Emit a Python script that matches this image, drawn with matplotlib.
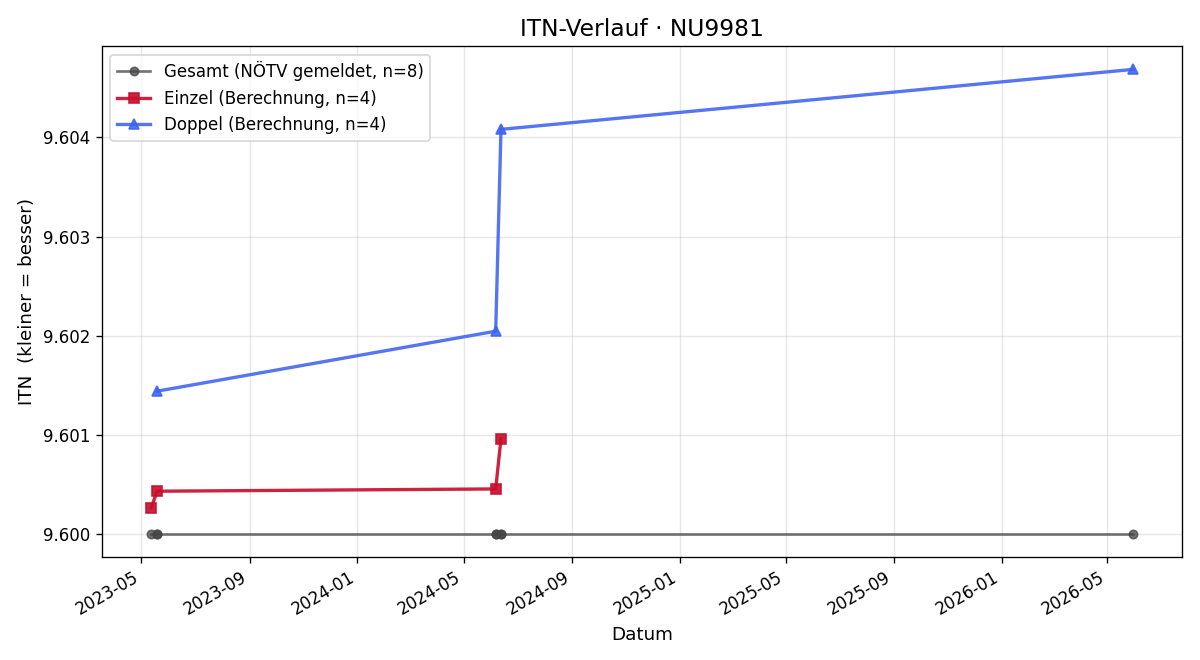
import matplotlib
matplotlib.use("Agg")
import matplotlib.pyplot as plt
import matplotlib.dates as mdates
from matplotlib.ticker import FormatStrFormatter
import pandas as pd

gesamt_dates = ["2023-05-12", "2023-05-19", "2023-05-19", "2024-06-06", "2024-06-06",
                "2024-06-12", "2024-06-12", "2026-05-30"]
gesamt_vals = [9.600] * 8
einzel_dates = ["2023-05-12", "2023-05-19", "2024-06-06", "2024-06-12"]
einzel_vals = [9.600263, 9.600430, 9.600453, 9.600960]
doppel_dates = ["2023-05-19", "2024-06-06", "2024-06-12", "2026-05-30"]
doppel_vals = [9.601440, 9.602045, 9.604082, 9.604687]

fig, ax = plt.subplots(figsize=(10, 5.5), dpi=120)
ax.plot(pd.to_datetime(gesamt_dates), gesamt_vals, marker="o", color="#444444", alpha=0.75,
        lw=1.6, ms=5, label="Gesamt (NÖTV gemeldet, n=8)")
ax.plot(pd.to_datetime(einzel_dates), einzel_vals, marker="s", color="#C8102E", alpha=0.92,
        lw=2.0, ms=6, label="Einzel (Berechnung, n=4)")
ax.plot(pd.to_datetime(doppel_dates), doppel_vals, marker="^", color="#3D63F0", alpha=0.88,
        lw=2.0, ms=6, label="Doppel (Berechnung, n=4)")

ax.set_title("ITN-Verlauf · NU9981", fontsize=14)
ax.set_xlabel("Datum", fontsize=11)
ax.set_ylabel("ITN  (kleiner = besser)", fontsize=11)
ax.yaxis.set_major_formatter(FormatStrFormatter("%.3f"))
ax.xaxis.set_major_locator(mdates.MonthLocator(bymonth=[1, 5, 9]))
ax.xaxis.set_major_formatter(mdates.DateFormatter("%Y-%m"))
ax.grid(True, alpha=0.3)
ax.legend(loc="upper left", fontsize=10)
fig.autofmt_xdate(rotation=30)
fig.subplots_adjust(left=0.085, right=0.985, top=0.930, bottom=0.156)
fig.savefig("out.png", dpi=120)
